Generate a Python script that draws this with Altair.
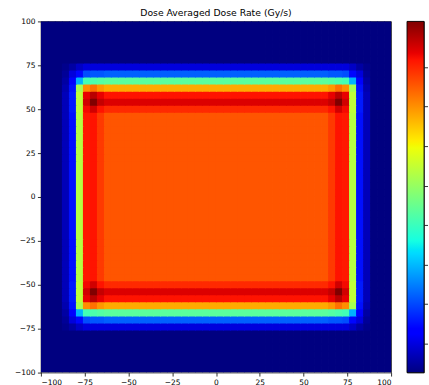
import altair as alt
import pandas as pd

# ---- data -----------------------------------------------------------------
# grid of 4-unit cells from -100 to 100 on both axes (50 x 50)
cell_lo = list(range(-100, 100, 4))

# class of each column (x) and each row (y) of cells
x_class = [0, 0, 0, 1, 2, 3, 4, 5, 6] + [7] * 32 + [6, 5, 4, 3, 2, 1, 0, 0, 0]
y_class = [0] * 6 + [1, 2, 3, 4, 5, 6, 7] + [8] * 24 + [7, 6, 5, 4, 3, 2, 1] + [0] * 6

# dose averaged dose rate (Gy/s) per (row class, column class)
rate_table = [
    [2.7, 2.7, 2.7, 2.7, 2.7, 2.7, 2.7, 2.7],
    [2.7, 3.6, 5.4, 8.0, 9.8, 9.8, 9.8, 9.8],
    [2.7, 4.5, 9.8, 14.2, 20.5, 21.3, 21.3, 22.2],
    [2.7, 5.4, 13.4, 29.3, 40.9, 41.8, 42.7, 43.5],
    [2.7, 6.3, 15.1, 51.5, 70.2, 72.9, 69.3, 67.5],
    [2.7, 7.1, 16.0, 54.2, 83.5, 87.1, 83.5, 81.7],
    [2.7, 7.1, 16.0, 54.2, 85.3, 91.5, 86.2, 84.4],
    [2.7, 7.1, 16.0, 54.2, 82.6, 85.3, 81.7, 79.7],
    [2.7, 7.1, 15.1, 53.3, 81.3, 81.7, 78.2, 75.5],
]

axis_ticks = [-100, -75, -50, -25, 0, 25, 50, 75, 100]
cbar_ticks = [10, 20, 30, 40, 50, 60, 70, 80]
title_text = "Dose Averaged Dose Rate (Gy/s)"

# ---- table for the library ------------------------------------------------
rows = []
for j, ylo in enumerate(cell_lo):
    for i, xlo in enumerate(cell_lo):
        rows.append({"x0": xlo, "x1": xlo + 4, "y0": ylo, "y1": ylo + 4,
                     "rate": rate_table[y_class[j]][x_class[i]]})
df = pd.DataFrame(rows)

vmin = df["rate"].min()
vmax = df["rate"].max()

# ---- jet colormap ---------------------------------------------------------
jet_r = [(0, 0), (0.35, 0), (0.66, 1), (0.89, 1), (1, 0.5)]
jet_g = [(0, 0), (0.125, 0), (0.375, 1), (0.64, 1), (0.91, 0), (1, 0)]
jet_b = [(0, 0.5), (0.11, 1), (0.34, 1), (0.65, 0), (1, 0)]


def seg(pts, t):
    for (t0, v0), (t1, v1) in zip(pts[:-1], pts[1:]):
        if t0 <= t <= t1:
            return v0 + (v1 - v0) * (t - t0) / (t1 - t0) if t1 > t0 else v1
    return pts[-1][1]


stops_t = sorted({t for p in (jet_r, jet_g, jet_b) for t, _ in p})
jet_hex = []
for t in stops_t:
    r, g, b = (round(255 * seg(p, t)) for p in (jet_r, jet_g, jet_b))
    jet_hex.append(f"#{r:02x}{g:02x}{b:02x}")

dom = [vmin + t * (vmax - vmin) for t in stops_t]
cscale = alt.Scale(domain=dom, range=jet_hex, interpolate="rgb", clamp=True)

xy_axis = dict(values=axis_ticks, title=None)

heat = alt.Chart(df).mark_rect(
    strokeWidth=0, x2Offset=0.8, y2Offset=-0.8, clip=True
).encode(
    x=alt.X("x0:Q", scale=alt.Scale(domain=[-100, 100], nice=False, zero=False),
            axis=alt.Axis(**xy_axis)),
    x2="x1:Q",
    y=alt.Y("y0:Q", scale=alt.Scale(domain=[-100, 100], nice=False, zero=False),
            axis=alt.Axis(**xy_axis)),
    y2="y1:Q",
    color=alt.Color("rate:Q", scale=cscale, legend=None),
).properties(
    width=351, height=352,
    title=alt.TitleParams(title_text, font="DejaVu Sans", fontSize=9.3,
                          fontWeight="normal", color="black", anchor="middle",
                          baseline="alphabetic", offset=-8),
)

cbar_df = pd.DataFrame({"lo": [vmin], "hi": [vmax]})
grad = alt.LinearGradient(
    gradient="linear",
    stops=[alt.GradientStop(color=c, offset=t) for c, t in zip(jet_hex, stops_t)],
    x1=0, x2=0, y1=1, y2=0,
)
cbar = alt.Chart(cbar_df).mark_rect(fill=grad, stroke="black", strokeWidth=0.8).encode(
    y=alt.Y("lo:Q", scale=alt.Scale(domain=[vmin, vmax], nice=False, zero=False),
            axis=alt.Axis(orient="right", values=cbar_ticks, labels=False,
                          title=None, domain=False)),
    y2="hi:Q",
    x=alt.value(0),
    x2=alt.value(17),
).properties(width=17, height=352)

chart = alt.hconcat(heat, cbar, spacing=16, bounds="flush").properties(
    padding={"left": 14, "top": 8, "right": 0, "bottom": 0},
    background="white",
).configure_view(stroke="black", strokeWidth=0.8).configure_axis(
    labelFont="DejaVu Sans", labelFontSize=7.5, labelColor="black",
    tickColor="black", tickSize=3.5, tickWidth=0.8, labelPadding=2.5,
    domain=False, grid=False,
)

chart.save("out.html", embed_options={"renderer": "svg", "actions": False})
